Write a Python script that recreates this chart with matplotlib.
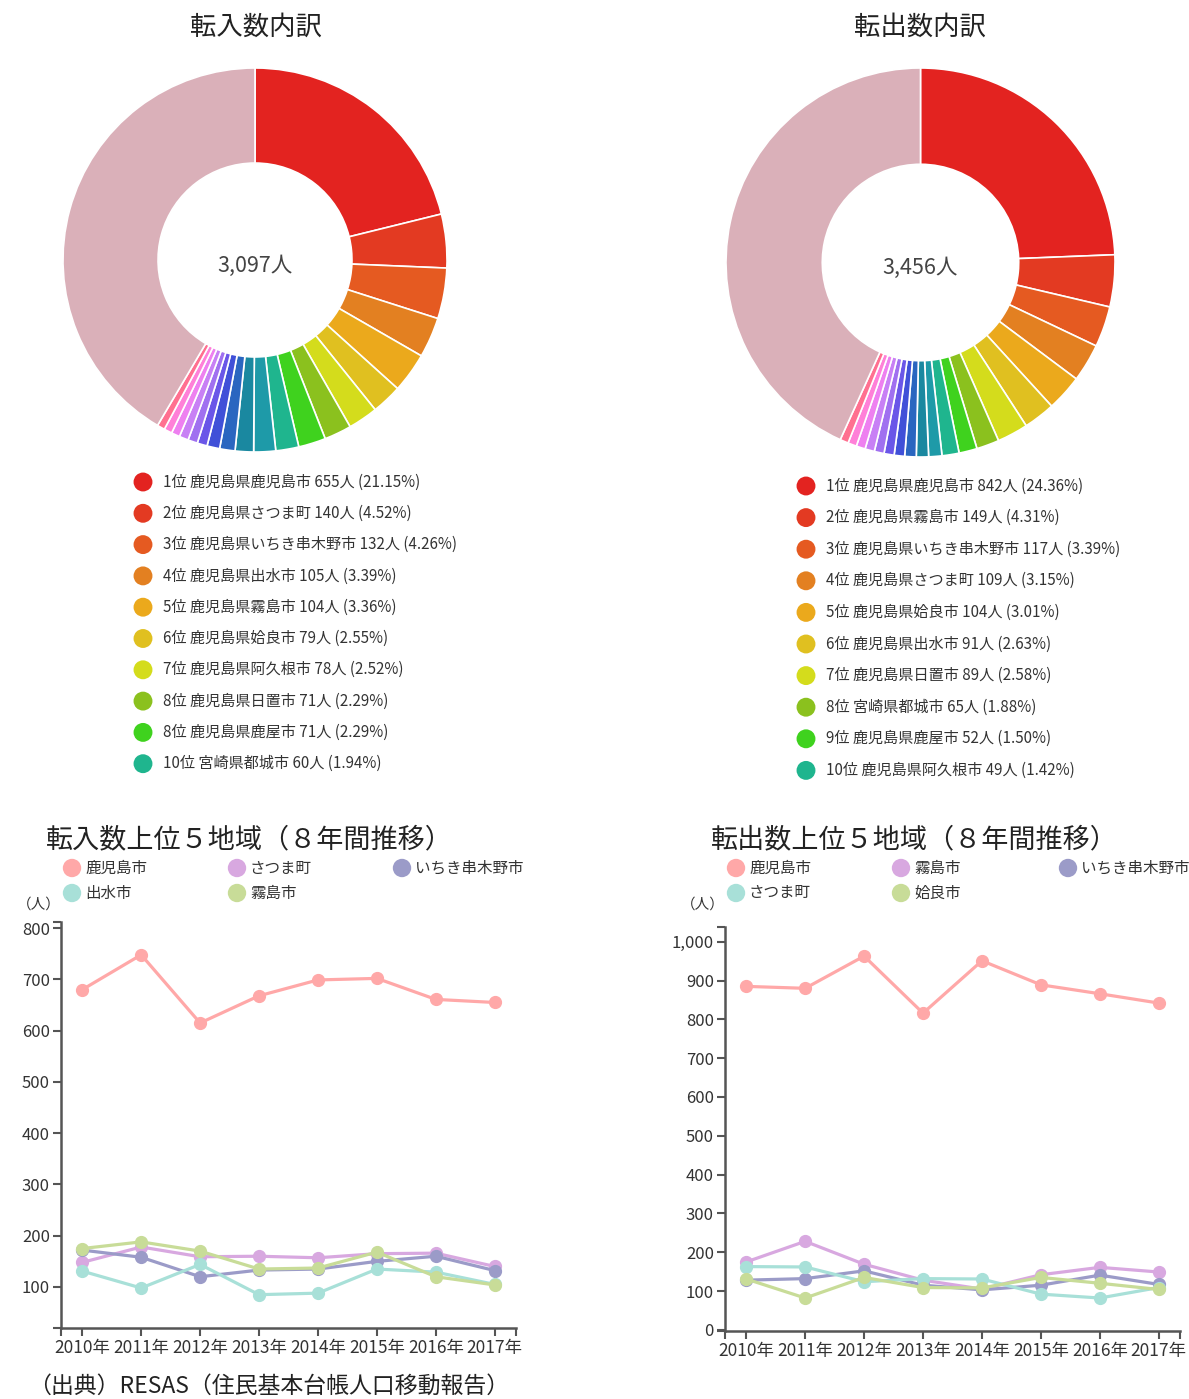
import matplotlib.pyplot as plt
from matplotlib.ticker import FuncFormatter

plt.rcParams['font.family'] = ['Noto Sans CJK JP', 'DejaVu Sans']

W, H = 1189, 1399

# ---- donut data ----
in_total = 3097
in_ranks = [1, 2, 3, 4, 5, 6, 7, 8, 8, 10]
in_names = ["鹿児島県鹿児島市", "鹿児島県さつま町", "鹿児島県いちき串木野市", "鹿児島県出水市",
            "鹿児島県霧島市", "鹿児島県姶良市", "鹿児島県阿久根市", "鹿児島県日置市",
            "鹿児島県鹿屋市", "宮崎県都城市"]
in_top = [655, 140, 132, 105, 104, 79, 78, 71, 71, 60]
in_rest = [57, 48, 40, 33, 26, 25, 24, 22, 21, 20]  # 11-20位

out_total = 3456
out_ranks = [1, 2, 3, 4, 5, 6, 7, 8, 9, 10]
out_names = ["鹿児島県鹿児島市", "鹿児島県霧島市", "鹿児島県いちき串木野市", "鹿児島県さつま町",
             "鹿児島県姶良市", "鹿児島県出水市", "鹿児島県日置市", "宮崎県都城市",
             "鹿児島県鹿屋市", "鹿児島県阿久根市"]
out_top = [842, 149, 117, 109, 104, 91, 89, 65, 52, 49]
out_rest = [38, 35, 33, 30, 29, 28, 27, 26, 25, 24]

slice_colors = ["#e32320", "#e33a22", "#e55a21", "#e38021", "#eba91c", "#e0c020",
                "#d4dc1c", "#8bc11e", "#3fd21e", "#1fb58e", "#1e9aa8", "#1a88a0",
                "#2a66c0", "#4050d8", "#6a56e8", "#a070f0", "#c880f5", "#ee80f0",
                "#ff80d8", "#ff7090"]
other_color = "#dab0b9"

# ---- line chart data ----
years = ["2010年", "2011年", "2012年", "2013年", "2014年", "2015年", "2016年", "2017年"]
line_colors = ["#ffa8a8", "#d8a8e0", "#9b9bc8", "#a8e0d8", "#c8dc98"]

in_labels = ["鹿児島市", "さつま町", "いちき串木野市", "出水市", "霧島市"]
in_kagoshima = [680, 748, 615, 668, 699, 702, 661, 655]
in_satsuma = [148, 178, 159, 160, 157, 165, 166, 140]
in_ichiki = [172, 158, 120, 133, 135, 150, 160, 132]
in_izumi = [131, 98, 144, 85, 88, 135, 129, 105]
in_kirishima = [175, 188, 170, 135, 137, 168, 120, 104]

out_labels = ["鹿児島市", "霧島市", "いちき串木野市", "さつま町", "姶良市"]
out_kagoshima = [885, 880, 963, 816, 951, 889, 866, 842]
out_kirishima = [175, 228, 169, 128, 105, 142, 161, 149]
out_ichiki = [128, 132, 152, 115, 103, 115, 141, 117]
out_satsuma = [163, 162, 124, 132, 131, 92, 82, 109]
out_aira = [131, 82, 135, 109, 108, 135, 120, 104]

fig = plt.figure(figsize=(W / 100, H / 100), dpi=100)

ov = fig.add_axes([0, 0, 1, 1])
ov.set_xlim(0, W)
ov.set_ylim(H, 0)
ov.axis('off')


def donut(x0, y0, d, top, rest, total):
    ax = fig.add_axes([x0 / W, 1 - (y0 + d) / H, d / W, d / H])
    vals = top + rest + [total - sum(top) - sum(rest)]
    ax.pie(vals, colors=slice_colors + [other_color], startangle=90, counterclock=False,
           radius=1, wedgeprops=dict(width=0.495, edgecolor='white', linewidth=1.2))
    ax.set_xlim(-1, 1)
    ax.set_ylim(-1, 1)
    ax.text(0, -0.03, f"{total:,}人", ha='center', va='center', fontsize=15.5, color='#444')


def donut_legend(x, y0, dy, ranks, names, top, total):
    for i in range(len(top)):
        y = y0 + dy * i
        ov.scatter([x], [y], s=185, color=slice_colors[i], edgecolors='none')
        ov.text(x + 20, y, f"{ranks[i]}位 {names[i]} {top[i]}人 ({top[i] / total * 100:.2f}%)",
                ha='left', va='center', fontsize=10.9, color='#333')


donut(63, 68, 384, in_top, in_rest, in_total)
donut(726, 68, 389, out_top, out_rest, out_total)
ov.text(256, 27, "転入数内訳", ha='center', va='center', fontsize=19, color='#222')
ov.text(920, 27, "転出数内訳", ha='center', va='center', fontsize=19, color='#222')
donut_legend(143, 482, 31.3, in_ranks, in_names, in_top, in_total)
donut_legend(806, 486, 31.6, out_ranks, out_names, out_top, out_total)


def line_chart(x0, y_top, y_bot, series, labels, ylim, yticks, legend_x, title_x, title):
    ax = fig.add_axes([x0 / W, 1 - y_bot / H, 455 / W, (y_bot - y_top) / H])
    for vals, c in zip(series, line_colors):
        ax.plot(range(len(years)), vals, color=c, lw=2.3, marker='o', ms=8.5,
                solid_capstyle='round')
    ax.set_xlim(-0.36, 7.36)
    ax.set_ylim(*ylim)
    ax.set_xticks(range(len(years)))
    ax.set_xticklabels(years)
    ax.set_yticks(yticks)
    ax.yaxis.set_major_formatter(FuncFormatter(lambda v, p: f"{v:,.0f}"))
    ax.set_xticks([-0.36, 7.36], minor=True)
    ax.set_yticks(list(ylim), minor=True)
    for s in ['top', 'right']:
        ax.spines[s].set_visible(False)
    for s in ['left', 'bottom']:
        ax.spines[s].set_color('#555')
        ax.spines[s].set_linewidth(1.8)
    ax.tick_params(which='both', length=6, width=1.5, color='#555',
                   labelcolor='#333', pad=2)
    ax.tick_params(axis='x', labelsize=12.5)
    ax.tick_params(axis='y', labelsize=12)
    ax.patch.set_alpha(0)
    # title, legend, unit
    ov.text(title_x, 840, title, ha='left', va='center', fontsize=19.5, color='#222')
    for i, lab in enumerate(labels):
        lx = legend_x[i % 3]
        ly = 868 + 25 * (i // 3)
        ov.scatter([lx], [ly], s=175, color=line_colors[i], edgecolors='none')
        ov.text(lx + 13, ly, lab, ha='left', va='center', fontsize=11.2, color='#333')
    ov.text(x0 - 22, 905, "（人）", ha='center', va='center', fontsize=10.5, color='#333')


line_chart(61, 922, 1328,
           [in_kagoshima, in_satsuma, in_ichiki, in_izumi, in_kirishima], in_labels,
           (20, 812), range(100, 801, 100), [72, 237, 402], 46, "転入数上位５地域（８年間推移）")
line_chart(725, 927, 1331,
           [out_kagoshima, out_kirishima, out_ichiki, out_satsuma, out_aira], out_labels,
           (-3, 1038), range(0, 1001, 100), [736, 901, 1068], 711, "転出数上位５地域（８年間推移）")

ov.text(28, 1386, "（出典）RESAS（住民基本台帳人口移動報告）", ha='left', va='center',
        fontsize=16.5, color='#222')

fig.savefig("out.png", dpi=100)
